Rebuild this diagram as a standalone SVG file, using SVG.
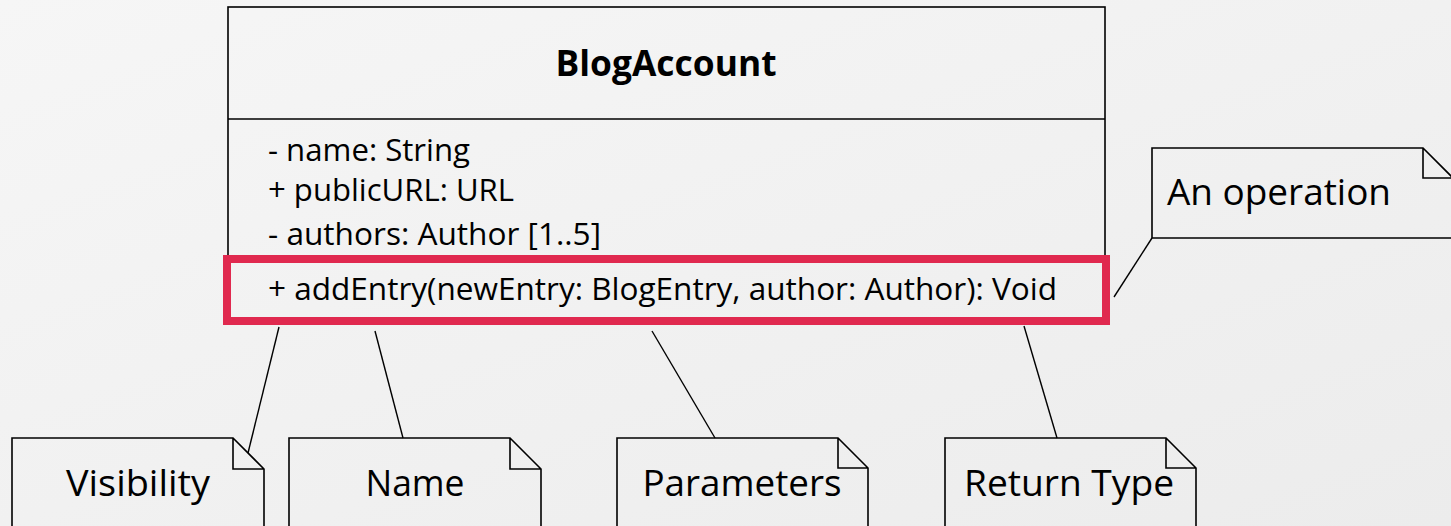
<svg xmlns="http://www.w3.org/2000/svg" width="1451" height="526" viewBox="0 0 1451 526">
  <defs>
    <linearGradient id="bg" x1="0" y1="0" x2="1" y2="1">
      <stop offset="0" stop-color="#f6f6f6"/>
      <stop offset="1" stop-color="#ececec"/>
    </linearGradient>
    <style>
      .box { fill: none; stroke: #000; stroke-width: 1.6; }
      .note { fill: none; stroke: #000; stroke-width: 1.6; stroke-linejoin: miter; }
      .conn { fill: none; stroke: #000; stroke-width: 1.4; }
      .t { font-family: "Open Sans", "Noto Sans", "Liberation Sans", sans-serif; fill: #000; }
      .title { font-size: 36px; font-weight: bold; text-anchor: middle; }
      .member { font-size: 31px; }
      .ntext { font-size: 37px; text-anchor: middle; }
      .hl { fill: none; stroke: #e0294f; stroke-width: 8; }
    </style>
  </defs>
  <rect x="0" y="0" width="1451" height="526" fill="url(#bg)"/>

  <g id="class-BlogAccount">
    <rect class="box" x="228" y="7" width="877" height="314"/>
    <line class="box" x1="228" y1="119" x2="1105" y2="119"/>
    <text class="t title" x="666" y="76" textLength="221" lengthAdjust="spacingAndGlyphs">BlogAccount</text>
    <text class="t member" x="268" y="161" textLength="202" lengthAdjust="spacingAndGlyphs">- name: String</text>
    <text class="t member" x="268" y="201" textLength="246" lengthAdjust="spacingAndGlyphs">+ publicURL: URL</text>
    <text class="t member" x="268" y="245" textLength="333" lengthAdjust="spacingAndGlyphs">- authors: Author [1..5]</text>
    <text class="t member" x="268" y="300" textLength="789" lengthAdjust="spacingAndGlyphs">+ addEntry(newEntry: BlogEntry, author: Author): Void</text>
  </g>

  <g id="highlight">
    <rect class="hl" x="227" y="259" width="879" height="62"/>
  </g>

  <g id="connectors">
    <line class="conn" x1="279" y1="327" x2="248" y2="453"/>
    <line class="conn" x1="375" y1="331" x2="403" y2="438"/>
    <line class="conn" x1="652" y1="331" x2="715" y2="438"/>
    <line class="conn" x1="1024" y1="326" x2="1057" y2="438"/>
    <line class="conn" x1="1114" y1="297" x2="1152" y2="238"/>
  </g>

  <g id="note-operation">
    <path class="note" d="M1152 148 H1423 L1453 178 V238 H1152 Z M1423 148 V178 H1453"/>
    <text class="t" x="1167" y="205" font-size="37" textLength="224" lengthAdjust="spacingAndGlyphs">An operation</text>
  </g>

  <g id="note-visibility">
    <path class="note" d="M12 438 H233 L264 469 V530 H12 Z M233 438 V469 H264"/>
    <text class="t ntext" x="138" y="496" textLength="144" lengthAdjust="spacingAndGlyphs">Visibility</text>
  </g>

  <g id="note-name">
    <path class="note" d="M289 438 H510 L541 469 V530 H289 Z M510 438 V469 H541"/>
    <text class="t ntext" x="415" y="496" textLength="99" lengthAdjust="spacingAndGlyphs">Name</text>
  </g>

  <g id="note-parameters">
    <path class="note" d="M617 438 H838 L868 468 V530 H617 Z M838 438 V468 H868"/>
    <text class="t ntext" x="742" y="496" textLength="199" lengthAdjust="spacingAndGlyphs">Parameters</text>
  </g>

  <g id="note-returntype">
    <path class="note" d="M945 438 H1166 L1196 468 V530 H945 Z M1166 438 V468 H1196"/>
    <text class="t ntext" x="1069" y="496" textLength="210" lengthAdjust="spacingAndGlyphs">Return Type</text>
  </g>
</svg>
